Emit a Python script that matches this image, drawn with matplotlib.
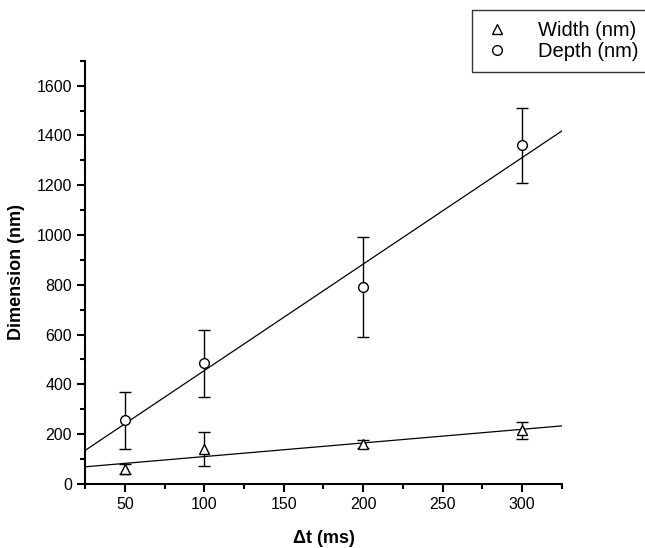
import numpy as np
import matplotlib
matplotlib.use("Agg")
import matplotlib.pyplot as plt
from matplotlib.ticker import MultipleLocator

plt.rcParams["font.family"] = ["Liberation Sans", "DejaVu Sans"]

# data
dt = np.array([50, 100, 200, 300])
width = np.array([60, 140, 160, 216])
width_err = np.array([20, 68, 15, 34])
depth = np.array([255, 484, 792, 1360])
depth_err = np.array([115, 134, 200, 152])

fig = plt.figure(figsize=(6.45, 5.48), dpi=100)
ax = fig.add_axes([0.132, 0.117, 0.739, 0.772])

ax.errorbar(dt, width, yerr=width_err, fmt="^", color="black", mfc="white",
            mec="black", ms=7, capsize=4, elinewidth=1, capthick=1,
            label="Width (nm)", zorder=3)
ax.errorbar(dt, depth, yerr=depth_err, fmt="o", color="black", mfc="white",
            mec="black", ms=7, capsize=4, elinewidth=1, capthick=1,
            label="Depth (nm)", zorder=3)

# linear fits
xs = np.array([25, 325])
for ys in (width, depth):
    k, b = np.polyfit(dt, ys, 1)
    ax.plot(xs, k * xs + b, color="black", lw=0.9, zorder=2)

ax.set_xlim(25, 325)
ax.set_ylim(0, 1700)
ax.xaxis.set_major_locator(MultipleLocator(50))
ax.xaxis.set_minor_locator(MultipleLocator(25))
ax.yaxis.set_minor_locator(MultipleLocator(100))
ax.set_yticks(np.arange(0, 1601, 200))
ax.tick_params(which="major", direction="out", length=6, width=1.5, labelsize=11.5)
ax.tick_params(which="minor", direction="out", length=3.5, width=1.5)
ax.spines["top"].set_visible(False)
ax.spines["right"].set_visible(False)
ax.spines["left"].set_linewidth(1.5)
ax.spines["bottom"].set_linewidth(1.5)

ax.set_xlabel("\u0394t (ms)", fontsize=13, fontweight="bold", labelpad=13)
ax.set_ylabel("Dimension (nm)", fontsize=13, fontweight="bold", labelpad=8)

handles, labels = ax.get_legend_handles_labels()
handles = [h[0] for h in handles]
leg = fig.legend(handles, labels, loc="upper left", bbox_to_anchor=(0.732, 0.982),
                 borderaxespad=0, fontsize=14.5, frameon=True, fancybox=False,
                 edgecolor="black", handlelength=1.4, handletextpad=1.3,
                 borderpad=0.55, labelspacing=0.1, markerscale=1.0)
leg.get_frame().set_linewidth(1.0)

fig.savefig("out.png", dpi=100)
